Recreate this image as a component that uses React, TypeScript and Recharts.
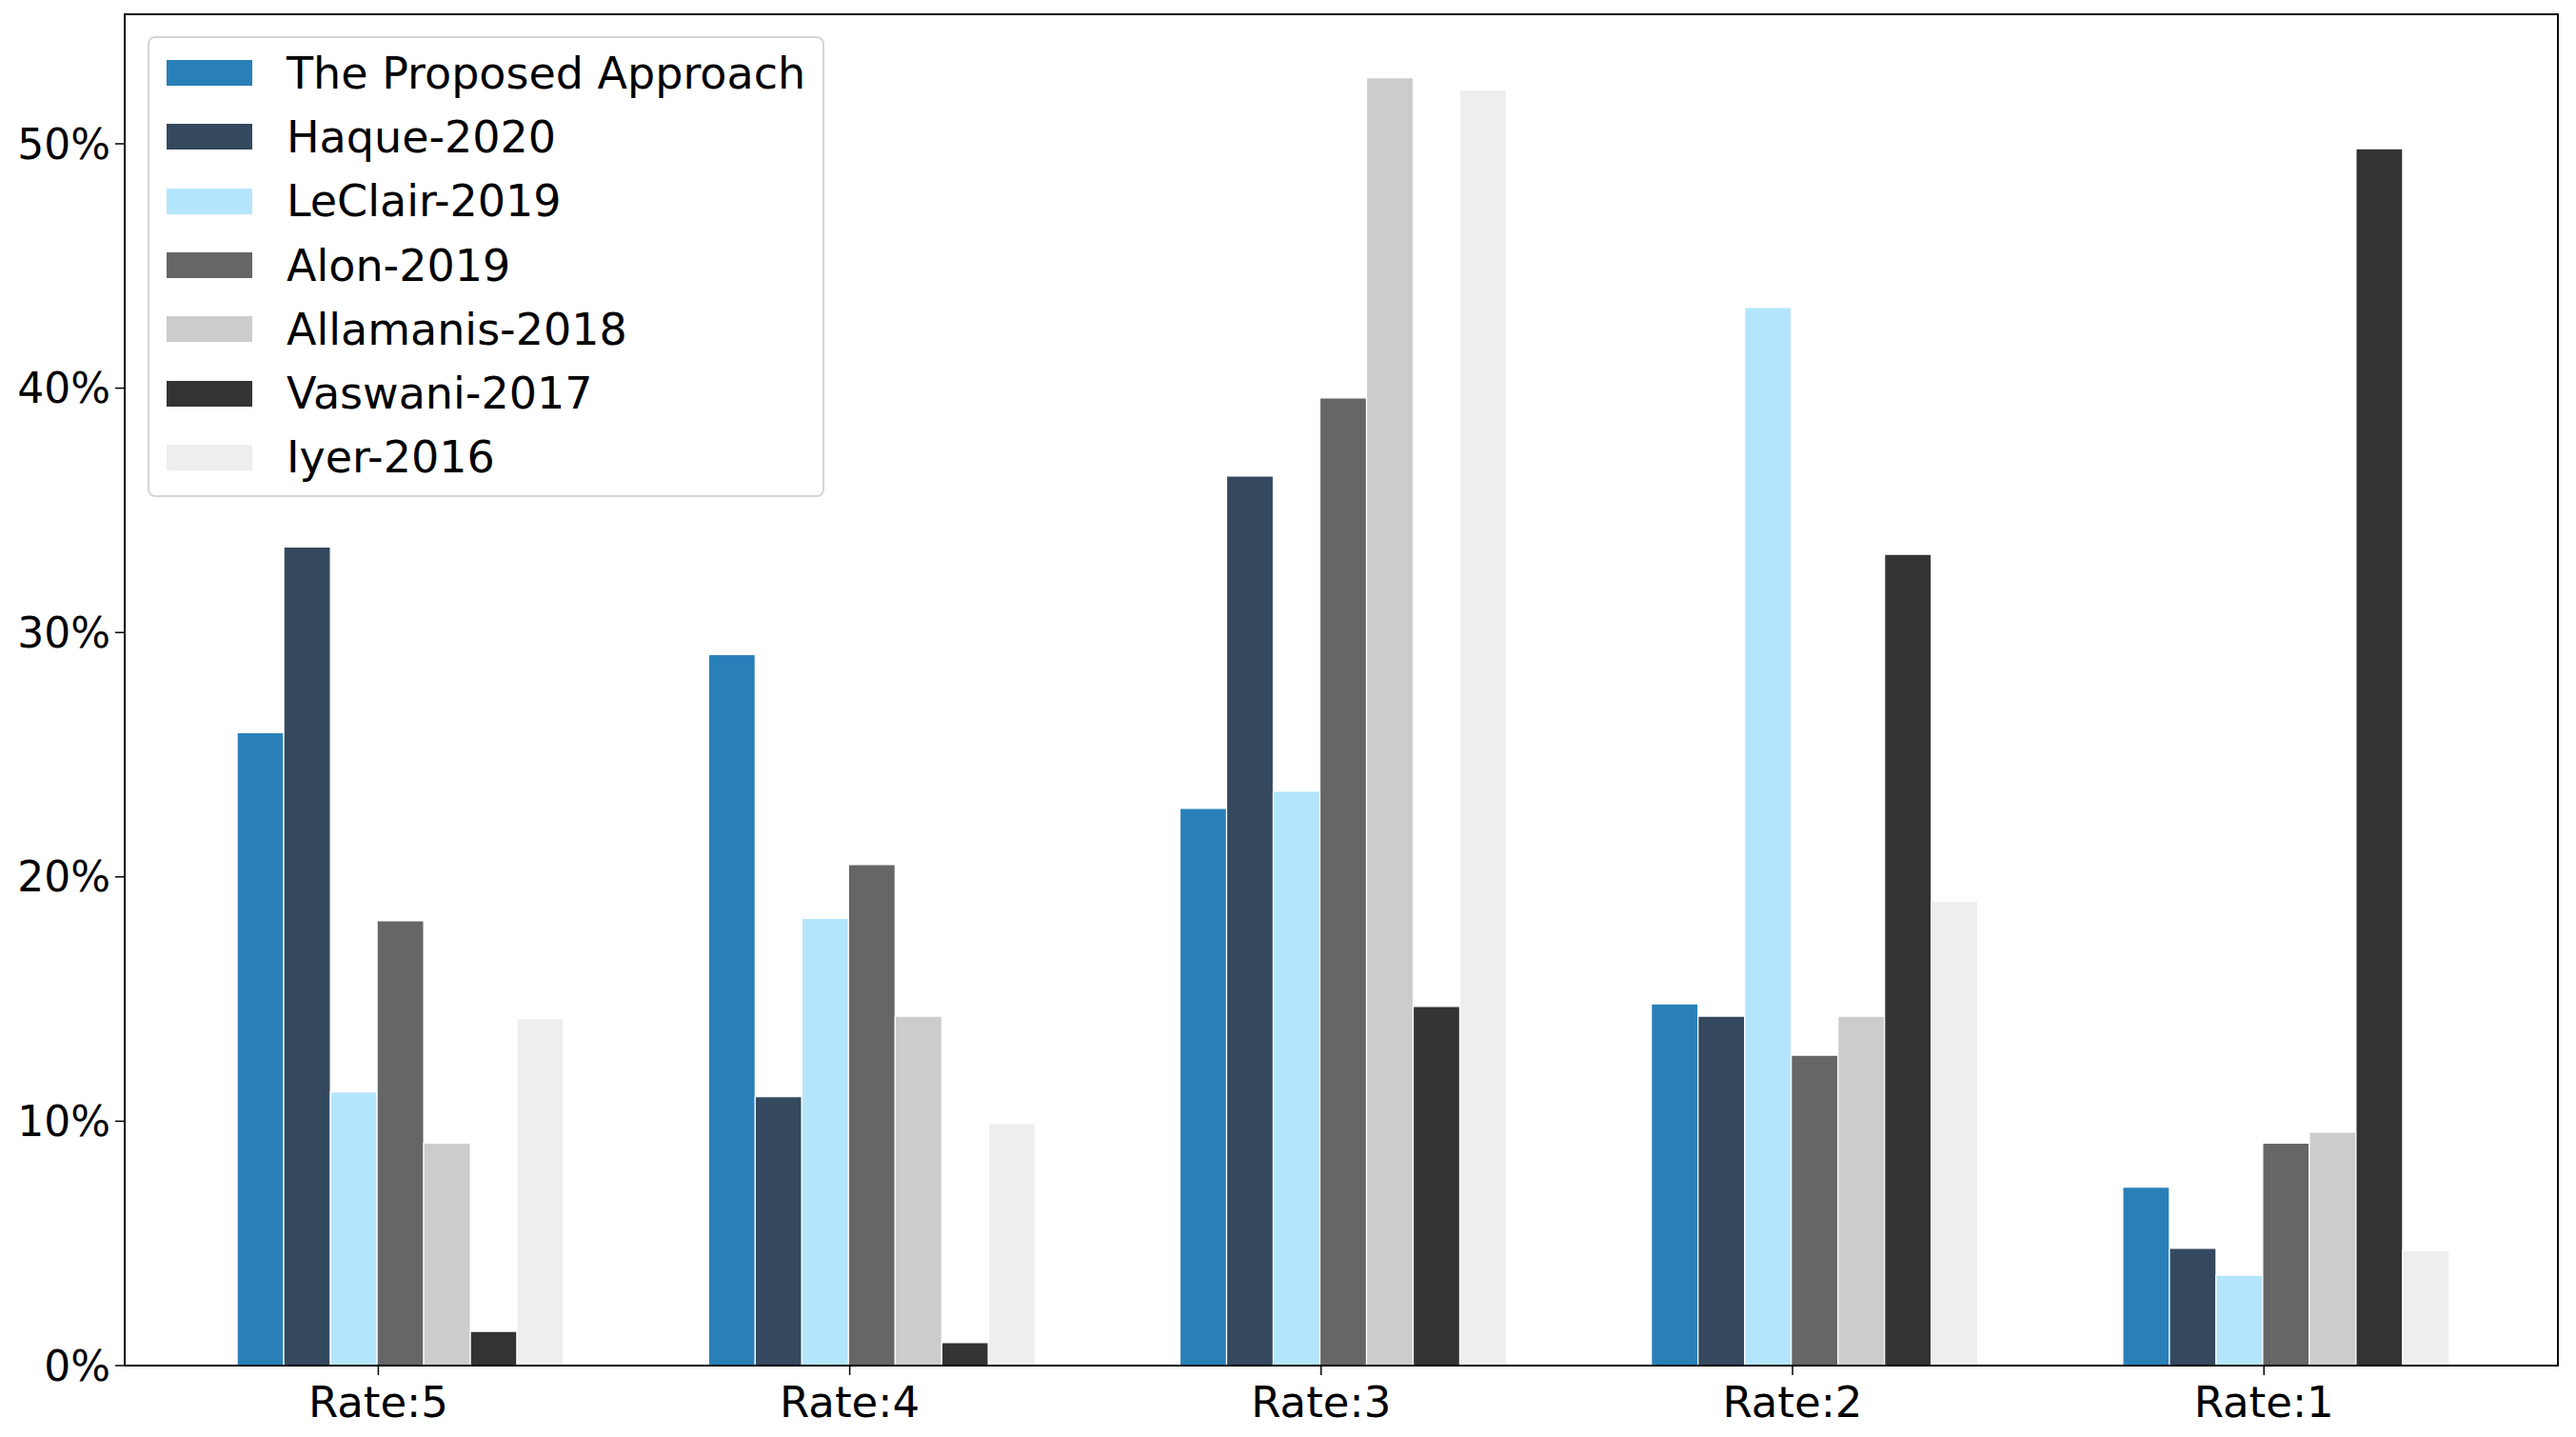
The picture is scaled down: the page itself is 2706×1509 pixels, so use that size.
import React from "react";
import { BarChart, Bar, XAxis, YAxis } from "recharts";

const categories = ["Rate:5", "Rate:4", "Rate:3", "Rate:2", "Rate:1"];
const proposed = [25.9, 29.1, 22.8, 14.8, 7.3];
const haque = [33.5, 11.0, 36.4, 14.3, 4.8];
const leclair = [11.2, 18.3, 23.5, 43.3, 3.7];
const alon = [18.2, 20.5, 39.6, 12.7, 9.1];
const allamanis = [9.1, 14.3, 52.7, 14.3, 9.55];
const vaswani = [1.4, 0.94, 14.7, 33.2, 49.8];
const iyer = [14.2, 9.9, 52.2, 19.0, 4.7];
const yTicks = [0, 10, 20, 30, 40, 50];

const SERIES = [
  { key: "proposed", name: "The Proposed Approach", color: "#2980b9", values: proposed },
  { key: "haque", name: "Haque-2020", color: "#34495e", values: haque },
  { key: "leclair", name: "LeClair-2019", color: "#b3e5fc", values: leclair },
  { key: "alon", name: "Alon-2019", color: "#666666", values: alon },
  { key: "allamanis", name: "Allamanis-2018", color: "#cccccc", values: allamanis },
  { key: "vaswani", name: "Vaswani-2017", color: "#333333", values: vaswani },
  { key: "iyer", name: "Iyer-2016", color: "#eeeeee", values: iyer },
];

const data = categories.map((cat, i) => {
  const row: Record<string, string | number> = { cat };
  SERIES.forEach((s) => { row[s.key] = s.values[i]; });
  return row;
});

const FONT = "DejaVu Sans";
const BAR = 49.4;
// plot box in page pixels
const PLOT = { left: 131, top: 15, right: 2687, bottom: 1434 };

// matplotlib puts the tick at the left edge of the 4th bar, half a bar left of the group centre
function RateTick({ x, y, payload }: any) {
  const tx = x - BAR / 2;
  return (
    <g>
      <line x1={tx} x2={tx} y1={y - 10} y2={y} stroke="#000" strokeWidth={1.5} />
      <text x={tx} y={y + 28} textAnchor="middle" dominantBaseline="central"
        fontFamily={FONT} fontSize={45} fill="#000">
        {payload.value}
      </text>
    </g>
  );
}

function LegendBox() {
  return (
    <div style={{
      position: "absolute", left: 155, top: 38,
      border: "2px solid #d6d6d6", borderRadius: 8, background: "#fff",
      padding: "3px 18px 6px 18px", fontFamily: FONT, fontSize: 46,
    }}>
      {SERIES.map((s) => (
        <div key={s.key} style={{ display: "flex", alignItems: "center", height: 67.3 }}>
          <div style={{ width: 90, height: 27, background: s.color, marginRight: 36 }} />
          <span style={{ color: "#000", whiteSpace: "nowrap" }}>{s.name}</span>
        </div>
      ))}
    </div>
  );
}

export default function App() {
  return (
    <div style={{ position: "absolute", left: 0, top: 0, width: 2706, height: 1509, background: "#fff" }}>
      <BarChart
        width={2706}
        height={1509}
        data={data}
        margin={{ top: PLOT.top, right: 2706 - PLOT.right, bottom: 0, left: 11 }}
        barGap={0}
        barCategoryGap={74.6}
      >
        <XAxis
          dataKey="cat"
          height={1509 - PLOT.bottom}
          padding={{ left: 43.5, right: 36.5 }}
          tickLine={false}
          tickSize={10}
          tickMargin={0}
          tick={<RateTick />}
          axisLine={{ stroke: "#000", strokeWidth: 2 }}
          interval={0}
        />
        <YAxis
          width={120}
          domain={[0, 55.3]}
          ticks={yTicks}
          tickFormatter={(v) => `${v}%`}
          tickSize={10}
          tickMargin={5}
          tick={{ fontFamily: FONT, fontSize: 44, fill: "#000" }}
          tickLine={{ stroke: "#000", strokeWidth: 1.5 }}
          axisLine={{ stroke: "#000", strokeWidth: 2 }}
          allowDataOverflow
        />
        {SERIES.map((s) => (
          <Bar key={s.key} dataKey={s.key} name={s.name} fill={s.color}
            stroke="#fff" strokeWidth={1.2} isAnimationActive={false} />
        ))}
      </BarChart>
      {/* top and right spines */}
      <div style={{
        position: "absolute", left: PLOT.left - 1, top: PLOT.top - 1,
        width: PLOT.right - PLOT.left, height: PLOT.bottom - PLOT.top,
        borderTop: "2px solid #000", borderRight: "2px solid #000", pointerEvents: "none",
      }} />
      <LegendBox />
    </div>
  );
}
